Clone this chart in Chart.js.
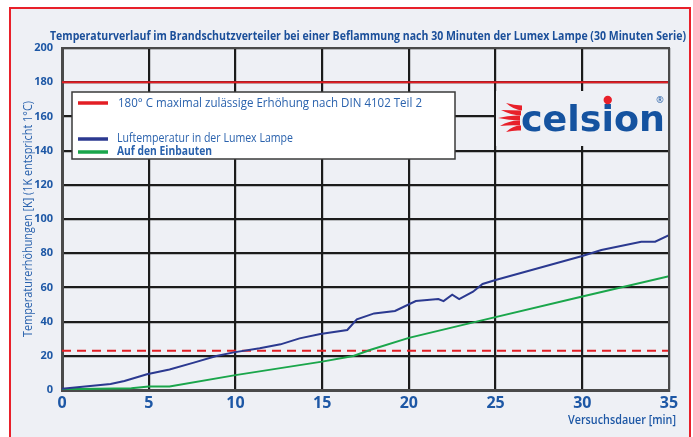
<!DOCTYPE html>
<html>
<head>
<meta charset="utf-8">
<script src="https://cdn.jsdelivr.net/npm/chart.js@4/dist/chart.umd.min.js"></script>
<style>
html,body{margin:0;padding:0;background:#fff;}
#wrap{width:693px;height:437px;position:relative;}
</style>
</head>
<body>
<div id="wrap"><canvas id="c" width="693" height="437"></canvas></div>
<script>
// ---- Data ----
const titleText = "Temperaturverlauf im Brandschutzverteiler bei einer Beflammung nach 30 Minuten der Lumex Lampe (30 Minuten Serie)";
const yTitle = "Temperaturerhöhungen [K] (1K entspricht 1°C)";
const xTitle = "Versuchsdauer [min]";
const legendLabels = ["180° C maximal zulässige Erhöhung nach DIN 4102 Teil 2", "Luftemperatur in der Lumex Lampe", "Auf den Einbauten"];
const xTickValues = [0, 5, 10, 15, 20, 25, 30, 35];
const yTickValues = [0, 20, 40, 60, 80, 100, 120, 140, 160, 180, 200];

const luftTime = [0, 2.8, 3.6, 4.9, 6.2, 7.6, 8.9, 9.9, 11.4, 12.6, 13.7, 14.9, 16.45, 17.0, 18.0, 19.2, 20.4, 21.7, 22.0, 22.5, 22.9, 23.7, 24.25, 25, 30, 31.1, 33.4, 34.2, 35];
const luftTemp = [0.8, 3.5, 5.3, 9.2, 12, 16, 19.9, 22, 24.4, 26.7, 30.2, 32.7, 35.1, 41.3, 44.8, 46.2, 52, 53.2, 52, 55.7, 53.2, 57.5, 62, 64.3, 78.4, 81.9, 86.7, 86.7, 90.6];

const einbTime = [0, 4, 5, 6.2, 10, 15, 16.8, 17.8, 20, 23.9, 30, 35];
const einbTemp = [0.4, 1, 2, 2, 8.7, 16.6, 19.9, 23.5, 30.5, 40, 54.7, 66.5];

const limitTime = [0, 35];
const limitTemp = [180, 180];
const refTime = [0, 35];
const refTemp = [23, 23];

const toXY = (xs, ys) => xs.map((x, i) => ({x: x, y: ys[i]}));

const BLUE_TXT = '#1d57a5';
const FONT = '"Open Sans", "Noto Sans", sans-serif';

function fitText(ctx, text, x, y, w) {
  const m = ctx.measureText(text).width;
  ctx.save();
  ctx.translate(x, y);
  ctx.scale(w / m, 1);
  ctx.fillText(text, 0, 0);
  ctx.restore();
}

const decor = {
  id: 'decor',
  beforeDraw(chart) {
    const ctx = chart.ctx;
    ctx.save();
    ctx.fillStyle = '#ffffff';
    ctx.fillRect(0, 0, 693, 437);
    ctx.fillStyle = '#eef0f5';
    ctx.fillRect(10, 8, 680, 440);
    ctx.strokeStyle = '#e8202a';
    ctx.lineWidth = 2;
    ctx.strokeRect(10, 8, 680, 440);
    // title
    ctx.fillStyle = '#1b4f9a';
    ctx.font = 'bold 13px ' + FONT;
    ctx.textBaseline = 'middle';
    ctx.textAlign = 'left';
    fitText(ctx, titleText, 50, 36, 636);
    // y title
    ctx.save();
    ctx.translate(29, 337);
    ctx.rotate(-Math.PI / 2);
    ctx.fillStyle = '#2a62ad';
    ctx.font = '12px ' + FONT;
    fitText(ctx, yTitle, 0, 0, 236);
    ctx.restore();
    // x title
    ctx.fillStyle = BLUE_TXT;
    ctx.font = '600 12px ' + FONT;
    fitText(ctx, xTitle, 568, 421, 108);
    ctx.restore();
  },
  afterDraw(chart) {
    const ctx = chart.ctx;
    const a = chart.chartArea;
    ctx.save();
    // top & right border
    ctx.strokeStyle = '#4a4a4a';
    ctx.lineWidth = 2;
    ctx.beginPath();
    ctx.moveTo(a.left, a.top);
    ctx.lineTo(a.right, a.top);
    ctx.lineTo(a.right, a.bottom);
    ctx.stroke();
    // legend box
    ctx.fillStyle = '#ffffff';
    ctx.fillRect(72, 92, 383, 67);
    ctx.strokeStyle = '#3a3a3a';
    ctx.lineWidth = 1.5;
    ctx.strokeRect(72, 92, 383, 67);
    const rows = [
      {y: 103, col: '#e31e24', txt: legendLabels[0], x: 118, w: 304, font: '13px '},
      {y: 139, col: '#2b3990', txt: legendLabels[1], x: 117, w: 176, font: '12px '},
      {y: 152, col: '#1aa64b', txt: legendLabels[2], x: 117, w: 95, font: 'bold 12px '}
    ];
    rows.forEach(r => {
      ctx.strokeStyle = r.col;
      ctx.lineWidth = 3.5;
      ctx.beginPath();
      ctx.moveTo(78, r.y);
      ctx.lineTo(108, r.y);
      ctx.stroke();
      ctx.fillStyle = '#2a62ad';
      ctx.font = r.font + FONT;
      ctx.textBaseline = 'middle';
      ctx.textAlign = 'left';
      fitText(ctx, r.txt, r.x, r.y, r.w);
    });
    // logo
    ctx.fillStyle = '#eef0f5';
    ctx.fillRect(496, 91, 172, 55);
    // flames
    ctx.fillStyle = '#e8202a';
    const flames = [[522,108,506,103],[521,113,501,110],[520,118,498,118],[520,123,500,126],[521,128,506,132]];
    flames.forEach(f => {
      ctx.beginPath();
      ctx.moveTo(f[0], f[1] - 2.5);
      ctx.quadraticCurveTo((f[0]+f[2])/2, f[1] - 3, f[2], f[3]);
      ctx.quadraticCurveTo((f[0]+f[2])/2, f[1] + 2, f[0], f[1] + 2.5);
      ctx.closePath();
      ctx.fill();
    });
    ctx.fillStyle = '#1553a0';
    ctx.font = 'bold 42px "DejaVu Sans", sans-serif';
    ctx.textBaseline = 'alphabetic';
    const word = 'celsion';
    const full = ctx.measureText(word).width;
    const sx = 144 / full;
    ctx.save();
    ctx.translate(521, 131);
    ctx.scale(sx, 0.86);
    ctx.fillText(word, 0, 0);
    const pre = ctx.measureText('cels').width;
    const iw = ctx.measureText('i').width;
    ctx.restore();
    ctx.fillStyle = '#e8202a';
    ctx.beginPath();
    ctx.arc(521 + (pre + iw / 2) * sx, 100, 4.2, 0, Math.PI * 2);
    ctx.fill();
    ctx.fillStyle = '#1553a0';
    ctx.font = '9px ' + FONT;
    ctx.textAlign = 'center';
    ctx.textBaseline = 'middle';
    ctx.fillText('®', 660, 100);
    ctx.restore();
  }
};

new Chart(document.getElementById('c'), {
  type: 'line',
  data: {
    datasets: [
      {label: legendLabels[1], data: toXY(luftTime, luftTemp), borderColor: '#2b3990', borderWidth: 2, pointRadius: 0, tension: 0, order: 1},
      {label: legendLabels[2], data: toXY(einbTime, einbTemp), borderColor: '#1aa64b', borderWidth: 2, pointRadius: 0, tension: 0, order: 2},
      {label: legendLabels[0], data: toXY(limitTime, limitTemp), borderColor: '#e31e24', borderWidth: 2, pointRadius: 0, order: 3},
      {label: 'ref', data: toXY(refTime, refTemp), borderColor: '#e31e24', borderWidth: 2, borderDash: [9, 6], pointRadius: 0, order: 4}
    ]
  },
  options: {
    responsive: false,
    animation: false,
    devicePixelRatio: 1,
    layout: {padding: {left: 0, right: 24, top: 48, bottom: 0}},
    plugins: {legend: {display: false}, title: {display: false}, tooltip: {enabled: false}},
    scales: {
      x: {
        type: 'linear', min: 0, max: 35,
        afterFit: s => { s.height = 47; },
        afterBuildTicks: s => { s.ticks = xTickValues.map(v => ({value: v})); },
        ticks: {color: BLUE_TXT, font: {family: FONT, size: 16, weight: 'bold'}, padding: 4, maxRotation: 0},
        grid: {color: '#1b1b1b', lineWidth: 2.2, drawTicks: false},
        border: {color: '#4a4a4a', width: 3}
      },
      y: {
        min: 0, max: 200,
        afterFit: s => { s.width = 62; },
        afterBuildTicks: s => { s.ticks = yTickValues.map(v => ({value: v})); },
        ticks: {color: BLUE_TXT, font: {family: FONT, size: 11, weight: 'bold'}, padding: 9},
        grid: {color: '#1b1b1b', lineWidth: 2.2, drawTicks: false},
        border: {color: '#4a4a4a', width: 3}
      }
    }
  },
  plugins: [decor]
});
</script>
</body>
</html>
